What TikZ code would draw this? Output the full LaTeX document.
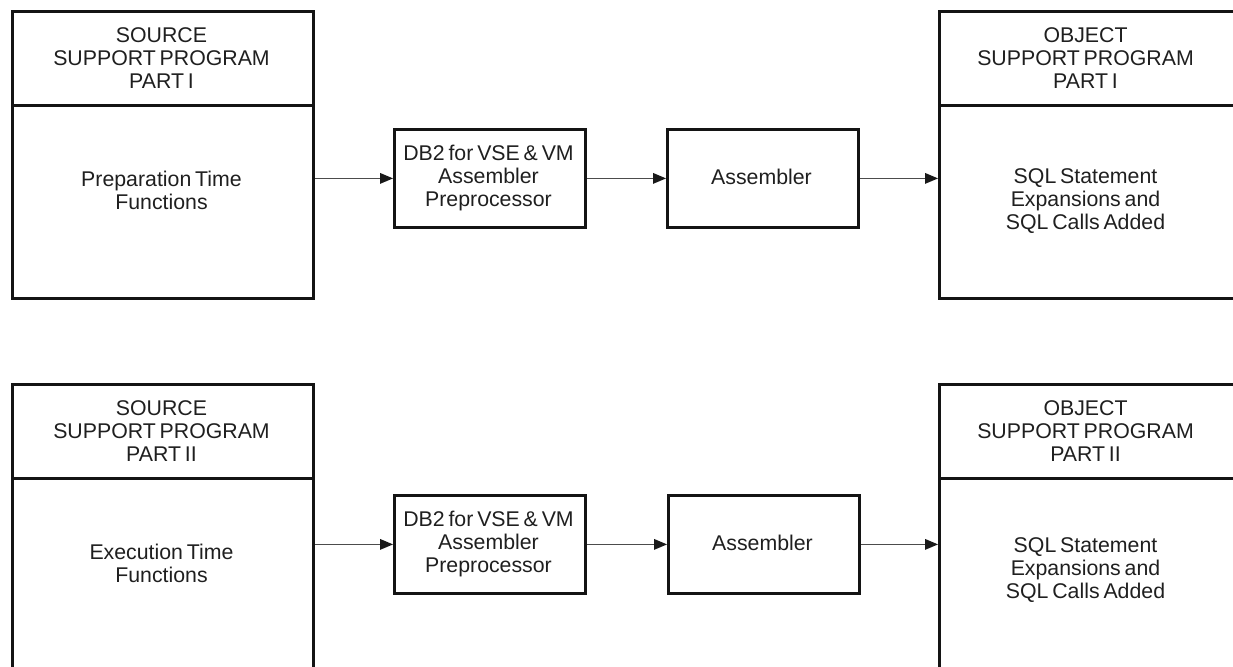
\documentclass[tikz,border=0pt]{standalone}
\usepackage{fontspec}
\setmainfont[WordSpace=0.65]{Liberation Sans}
\usetikzlibrary{arrows.meta,calc}
\begin{document}
\begin{tikzpicture}[x=1pt,y=-1pt,
  every node/.style={font=\fontsize{21.3}{23}\selectfont, text=black!88},
  box/.style={draw=black!92, line width=2.8pt, rectangle, inner sep=0pt, anchor=north west},
  lbl/.style={align=center, inner sep=0pt},
  flow/.style={draw=black!70, line width=1pt, -{Triangle[length=13pt,width=11pt,fill=black!90,line width=0pt]}}
]
\useasboundingbox (0,0) rectangle (1233,666);
\clip (0,0) rectangle (1233,666);

% ---------- top row ----------
\node[box, minimum width=301pt, minimum height=94pt] (lh1) at (11,10) {};
\node[box, minimum width=301pt, minimum height=193pt] (lb1) at (11,104) {};
\node[lbl] (lht1) at (161.5,58) {SOURCE\\SUPPORT PROGRAM\\PART I};
\node[lbl] (lbt1) at (161.5,190) {Preparation Time\\Functions};

\node[box, minimum width=191pt, minimum height=98pt] (pp1) at (393,128) {};
\node[lbl] (ppt1) at (488.5,178) {DB2 for VSE \& VM\\Assembler\\Preprocessor};

\node[box, minimum width=191pt, minimum height=98pt] (as1) at (666,128) {};
\node[lbl] (ast1) at (761.5,177) {Assembler};

\node[box, minimum width=320pt, minimum height=94pt] (rh1) at (938,10) {};
\node[box, minimum width=320pt, minimum height=193pt] (rb1) at (938,104) {};
\node[lbl] (rht1) at (1085.5,58) {OBJECT\\SUPPORT PROGRAM\\PART I};
\node[lbl] (rbt1) at (1085.5,201) {SQL Statement\\Expansions and\\SQL Calls Added};

\draw[flow] (pp1.west -| lb1.east) -- (pp1.west);
\draw[flow] (pp1.east) -- (as1.west);
\draw[flow] (as1.east) -- (as1.east -| rb1.west);

% ---------- bottom row ----------
\node[box, minimum width=301pt, minimum height=94pt] (lh2) at (11,383) {};
\node[box, minimum width=301pt, minimum height=240pt] (lb2) at (11,477) {};
\node[lbl] (lht2) at (161.5,431) {SOURCE\\SUPPORT PROGRAM\\PART II};
\node[lbl] (lbt2) at (161.5,563) {Execution Time\\Functions};

\node[box, minimum width=191pt, minimum height=98pt] (pp2) at (393,494) {};
\node[lbl] (ppt2) at (488.5,544) {DB2 for VSE \& VM\\Assembler\\Preprocessor};

\node[box, minimum width=191pt, minimum height=98pt] (as2) at (667,494) {};
\node[lbl] (ast2) at (762.5,543) {Assembler};

\node[box, minimum width=320pt, minimum height=94pt] (rh2) at (938,383) {};
\node[box, minimum width=320pt, minimum height=240pt] (rb2) at (938,477) {};
\node[lbl] (rht2) at (1085.5,431) {OBJECT\\SUPPORT PROGRAM\\PART II};
\node[lbl] (rbt2) at (1085.5,570) {SQL Statement\\Expansions and\\SQL Calls Added};

\draw[flow] (pp2.west -| lb2.east) -- (pp2.west);
\draw[flow] (pp2.east) -- (as2.west);
\draw[flow] (as2.east) -- (as2.east -| rb2.west);
\end{tikzpicture}
\end{document}
